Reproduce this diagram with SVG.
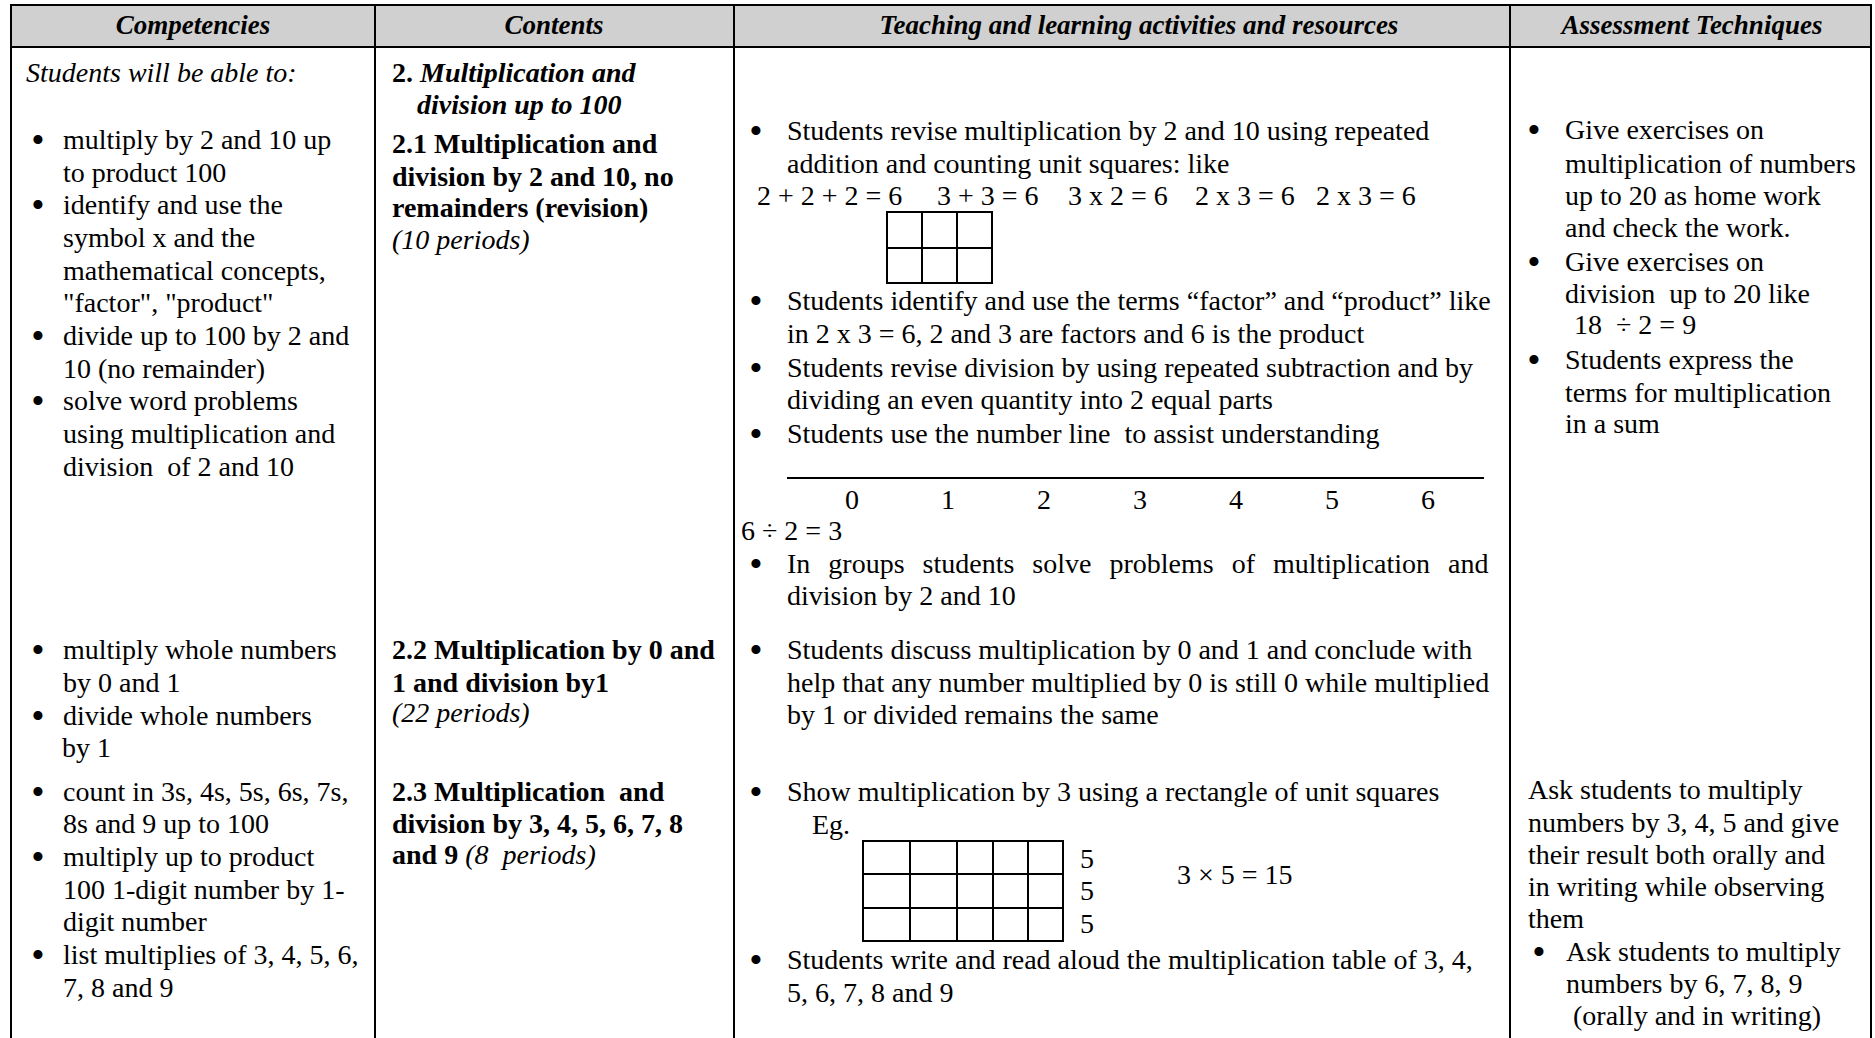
<svg xmlns="http://www.w3.org/2000/svg" width="1875" height="1038" viewBox="0 0 1875 1038">
<style>
text{font-family:"Liberation Serif","Times New Roman",serif;font-size:28px;fill:#000;white-space:pre}
.h{font-weight:bold;font-style:italic;font-size:27px;text-anchor:middle}
.b{font-weight:bold}
.i{font-style:italic}
.bi{font-weight:bold;font-style:italic}
.c{text-anchor:middle}
.bu{text-anchor:middle;font-size:38px}
.ln{stroke:#000;stroke-width:2;fill:none}
</style>
<rect x="0" y="0" width="1875" height="1038" fill="#fff"/>
<g id="table-frame">
<rect x="11" y="5" width="1860" height="42" fill="#d0d0d0"/>
<path class="ln" d="M10 5H1872 M10 47H1872 M11 5V1038 M375 5V1038 M734 5V1038 M1510 5V1038 M1871 5V1038"/>
</g>
<g id="header">
<text class="h" x="193" y="34">Competencies</text>
<text class="h" x="554" y="34">Contents</text>
<text class="h" x="1139" y="34">Teaching and learning activities and resources</text>
<text class="h" x="1692" y="34">Assessment Techniques</text>
</g>
<g id="competencies-2-1">
<text class="i" x="26" y="82">Students will be able to:</text>
<text class="bu" x="38" y="153">•</text>
<text x="63" y="149">multiply by 2 and 10 up</text>
<text x="63" y="181.5">to product 100</text>
<text class="bu" x="38" y="218">•</text>
<text x="63" y="214">identify and use the</text>
<text x="63" y="247">symbol x and the</text>
<text x="63" y="279.5">mathematical concepts,</text>
<text x="63" y="312">"factor", "product"</text>
<text class="bu" x="38" y="349">•</text>
<text x="63" y="345">divide up to 100 by 2 and</text>
<text x="63" y="377.5">10 (no remainder)</text>
<text class="bu" x="38" y="414">•</text>
<text x="63" y="410">solve word problems</text>
<text x="63" y="443">using multiplication and</text>
<text x="63" y="475.5">division  of 2 and 10</text>
</g>
<g id="competencies-2-2">
<text class="bu" x="38" y="663">•</text>
<text x="63" y="659">multiply whole numbers</text>
<text x="63" y="691.5">by 0 and 1</text>
<text class="bu" x="38" y="729">•</text>
<text x="63" y="725">divide whole numbers</text>
<text x="62" y="757">by 1</text>
</g>
<g id="competencies-2-3">
<text class="bu" x="38" y="805">•</text>
<text x="63" y="801">count in 3s, 4s, 5s, 6s, 7s,</text>
<text x="63" y="833">8s and 9 up to 100</text>
<text class="bu" x="38" y="870">•</text>
<text x="63" y="866">multiply up to product</text>
<text x="63" y="899">100 1-digit number by 1-</text>
<text x="63" y="931">digit number</text>
<text class="bu" x="38" y="968">•</text>
<text x="63" y="964">list multiplies of 3, 4, 5, 6,</text>
<text x="63" y="997">7, 8 and 9</text>
</g>
<g id="contents-2-1">
<text x="392" y="82"><tspan class="b">2.</tspan><tspan class="bi"> Multiplication and</tspan></text>
<text class="bi" x="417" y="114">division up to 100</text>
<text class="b" x="392" y="153">2.1 Multiplication and</text>
<text class="b" x="392" y="185.5">division by 2 and 10, no</text>
<text class="b" x="392" y="217">remainders (revision)</text>
<text class="i" x="392" y="249">(10 periods)</text>
</g>
<g id="contents-2-2">
<text class="b" x="392" y="659">2.2 Multiplication by 0 and</text>
<text class="b" x="392" y="691.5">1 and division by1</text>
<text class="i" x="392" y="722">(22 periods)</text>
</g>
<g id="contents-2-3">
<text class="b" x="392" y="801">2.3 Multiplication  and</text>
<text class="b" x="392" y="833">division by 3, 4, 5, 6, 7, 8</text>
<text x="392" y="864"><tspan class="b">and 9</tspan><tspan class="i"> (8  periods)</tspan></text>
</g>
<g id="activities-2-1">
<text class="bu" x="756" y="144">•</text>
<text x="787" y="140">Students revise multiplication by 2 and 10 using repeated</text>
<text x="787" y="172.5">addition and counting unit squares: like</text>
<text x="757" y="205">2 + 2 + 2 = 6</text>
<text x="937" y="205">3 + 3 = 6</text>
<text x="1068" y="205">3 x 2 = 6</text>
<text x="1195" y="205">2 x 3 = 6</text>
<text x="1316" y="205">2 x 3 = 6</text>
<path class="ln" d="M887 212H992V283H887Z M887 248H992 M922 212V283 M957 212V283"/>
<text class="bu" x="756" y="314">•</text>
<text x="787" y="310">Students identify and use the terms “factor” and “product” like</text>
<text x="787" y="342.5">in 2 x 3 = 6, 2 and 3 are factors and 6 is the product</text>
<text class="bu" x="756" y="381">•</text>
<text x="787" y="377">Students revise division by using repeated subtraction and by</text>
<text x="787" y="409">dividing an even quantity into 2 equal parts</text>
<text class="bu" x="756" y="447">•</text>
<text x="787" y="443">Students use the number line  to assist understanding</text>
<path class="ln" d="M787 478H1484"/>
<text class="c" x="852" y="509">0</text>
<text class="c" x="948" y="509">1</text>
<text class="c" x="1044" y="509">2</text>
<text class="c" x="1140" y="509">3</text>
<text class="c" x="1236" y="509">4</text>
<text class="c" x="1332" y="509">5</text>
<text class="c" x="1428" y="509">6</text>
<text x="741" y="540">6 ÷ 2 = 3</text>
<text class="bu" x="756" y="577">•</text>
<text x="787" y="573" word-spacing="11">In groups students solve problems of multiplication and</text>
<text x="787" y="605">division by 2 and 10</text>
</g>
<g id="activities-2-2">
<text class="bu" x="756" y="663">•</text>
<text x="787" y="659">Students discuss multiplication by 0 and 1 and conclude with</text>
<text x="787" y="691.5">help that any number multiplied by 0 is still 0 while multiplied</text>
<text x="787" y="724">by 1 or divided remains the same</text>
</g>
<g id="activities-2-3">
<text class="bu" x="756" y="805">•</text>
<text x="787" y="801">Show multiplication by 3 using a rectangle of unit squares</text>
<text x="812" y="834">Eg.</text>
<path class="ln" d="M863 841H1063V941H863Z M863 874H1063 M863 908H1063 M910 841V941 M957 841V941 M993 841V941 M1028 841V941"/>
<text x="1080" y="868">5</text>
<text x="1080" y="900">5</text>
<text x="1080" y="933">5</text>
<text x="1177" y="884">3 × 5 = 15</text>
<text class="bu" x="756" y="973">•</text>
<text x="787" y="969">Students write and read aloud the multiplication table of 3, 4,</text>
<text x="787" y="1001.5">5, 6, 7, 8 and 9</text>
</g>
<g id="assessment-2-1">
<text class="bu" x="1534" y="143">•</text>
<text x="1565" y="139">Give exercises on</text>
<text x="1565" y="172.5">multiplication of numbers</text>
<text x="1565" y="205">up to 20 as home work</text>
<text x="1565" y="237">and check the work.</text>
<text class="bu" x="1534" y="274.5">•</text>
<text x="1565" y="270.5">Give exercises on</text>
<text x="1565" y="303">division  up to 20 like</text>
<text x="1574" y="334">18  ÷ 2 = 9</text>
<text class="bu" x="1534" y="372.5">•</text>
<text x="1565" y="368.5">Students express the</text>
<text x="1565" y="402">terms for multiplication</text>
<text x="1565" y="433">in a sum</text>
</g>
<g id="assessment-2-3">
<text x="1528" y="799">Ask students to multiply</text>
<text x="1528" y="831.5">numbers by 3, 4, 5 and give</text>
<text x="1528" y="864">their result both orally and</text>
<text x="1528" y="896">in writing while observing</text>
<text x="1528" y="928">them</text>
<text class="bu" x="1539" y="965">•</text>
<text x="1566" y="961">Ask students to multiply</text>
<text x="1566" y="993">numbers by 6, 7, 8, 9</text>
<text x="1566" y="1025"> (orally and in writing)</text>
</g>
</svg>
